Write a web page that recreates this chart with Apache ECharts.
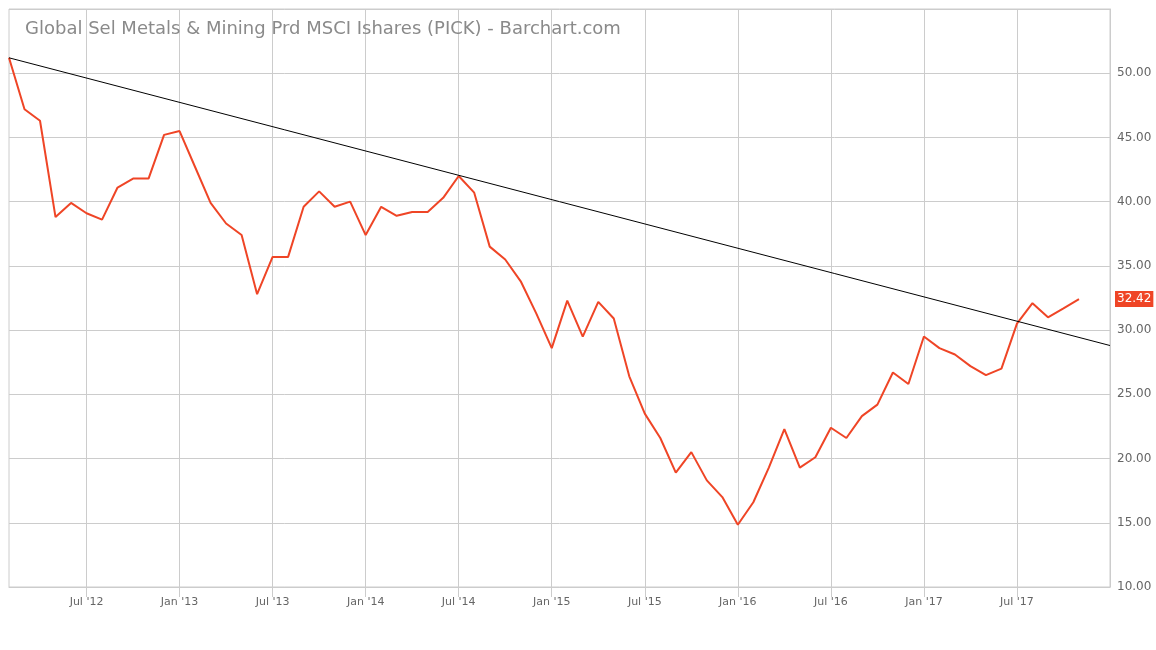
<!DOCTYPE html>
<html>
<head>
<meta charset="utf-8">
<script src="https://cdn.jsdelivr.net/npm/echarts@6/dist/echarts.min.js"></script>
<style>
html,body{margin:0;padding:0;background:#fff;}
#chart{width:1156px;height:650px;}
</style>
</head>
<body>
<div id="chart"></div>
<script>
// Monthly categories Feb 2012 .. Jan 2018
var months = [
'2012-02','2012-03','2012-04','2012-05','2012-06','2012-07','2012-08','2012-09','2012-10','2012-11','2012-12',
'2013-01','2013-02','2013-03','2013-04','2013-05','2013-06','2013-07','2013-08','2013-09','2013-10','2013-11','2013-12',
'2014-01','2014-02','2014-03','2014-04','2014-05','2014-06','2014-07','2014-08','2014-09','2014-10','2014-11','2014-12',
'2015-01','2015-02','2015-03','2015-04','2015-05','2015-06','2015-07','2015-08','2015-09','2015-10','2015-11','2015-12',
'2016-01','2016-02','2016-03','2016-04','2016-05','2016-06','2016-07','2016-08','2016-09','2016-10','2016-11','2016-12',
'2017-01','2017-02','2017-03','2017-04','2017-05','2017-06','2017-07','2017-08','2017-09','2017-10','2017-11','2017-12',
'2018-01'
];
// PICK monthly close
var prices = [
51.2,47.2,46.3,38.8,39.9,39.1,38.6,41.1,41.8,41.8,45.2,
45.5,42.7,39.9,38.3,37.4,32.8,35.7,35.7,39.6,40.8,39.6,40.0,
37.4,39.6,38.9,39.2,39.2,40.3,42.0,40.7,36.5,35.5,33.8,31.3,
28.6,32.3,29.5,32.2,30.9,26.4,23.5,21.6,18.9,20.5,18.3,17.0,
14.85,16.6,19.3,22.3,19.3,20.1,22.4,21.6,23.3,24.2,26.7,25.8,
29.5,28.6,28.1,27.2,26.5,27.0,30.5,32.1,31.0,31.7,32.42,null,
null
];
// Trend line endpoints (first month, last month)
var trendStart = 51.2;
var trendEnd = 28.8;
var lastPrice = 32.42;
var yTicks = [10,15,20,25,30,35,40,45,50,55];

var trend = months.map(function(m,i){
  if(i===0) return trendStart;
  if(i===months.length-1) return trendEnd;
  return null;
});
var monNames = ['Jan','Feb','Mar','Apr','May','Jun','Jul','Aug','Sep','Oct','Nov','Dec'];
function isHalf(i, v){
  if(i===months.length-1) return false;
  var mm = v.slice(5); return mm==='01' || mm==='07';
}

var chart = echarts.init(document.getElementById('chart'));
chart.setOption({
  animation:false,
  backgroundColor:'#fff',
  title:{
    text:'Global Sel Metals & Mining Prd MSCI Ishares (PICK) - Barchart.com',
    left:20, top:15,
    textStyle:{color:'#8a8a8a', fontSize:18, fontWeight:'normal', fontFamily:'DejaVu Sans'}
  },
  grid:{left:9, right:46, top:9, bottom:63, show:true, borderColor:'#cccccc', borderWidth:1},
  xAxis:{
    type:'category', data:months, boundaryGap:false,
    axisLine:{show:true, lineStyle:{color:'#cccccc'}},
    axisTick:{show:true, interval:isHalf, length:10, lineStyle:{color:'#cccccc'}},
    splitLine:{show:true, interval:isHalf, lineStyle:{color:'#cccccc'}},
    axisLabel:{
      interval:isHalf, margin:10, color:'#666', fontSize:11, fontFamily:'DejaVu Sans',
      formatter:function(v){ var m=parseInt(v.slice(5),10); return monNames[m-1]+" '"+v.slice(2,4); }
    }
  },
  yAxis:{
    type:'value', position:'right', min:yTicks[0], max:yTicks[yTicks.length-1], interval:5,
    axisLine:{show:true, lineStyle:{color:'#cccccc'}},
    axisTick:{show:false},
    splitLine:{show:true, lineStyle:{color:'#cccccc'}},
    axisLabel:{
      margin:7, color:'#666', fontSize:12, fontFamily:'DejaVu Sans',
      formatter:function(v){ return v>=55 ? '' : v.toFixed(2); }
    }
  },
  series:[
    {
      type:'line', data:prices, symbol:'none',
      lineStyle:{color:'#ef4526', width:2},
      markLine:{
        silent:true, symbol:['none','none'],
        lineStyle:{color:'rgba(0,0,0,0)', width:0},
        label:{
          show:true, position:'end', distance:5,
          formatter:function(){ return lastPrice.toFixed(2); },
          color:'#fff', backgroundColor:'#ef4526', fontSize:12, fontFamily:'DejaVu Sans',
          padding:[2,2,2,2]
        },
        data:[{yAxis:lastPrice}]
      }
    },
    {
      type:'line', data:trend, symbol:'none', connectNulls:true,
      lineStyle:{color:'#000', width:1}
    }
  ]
});
</script>
</body>
</html>
